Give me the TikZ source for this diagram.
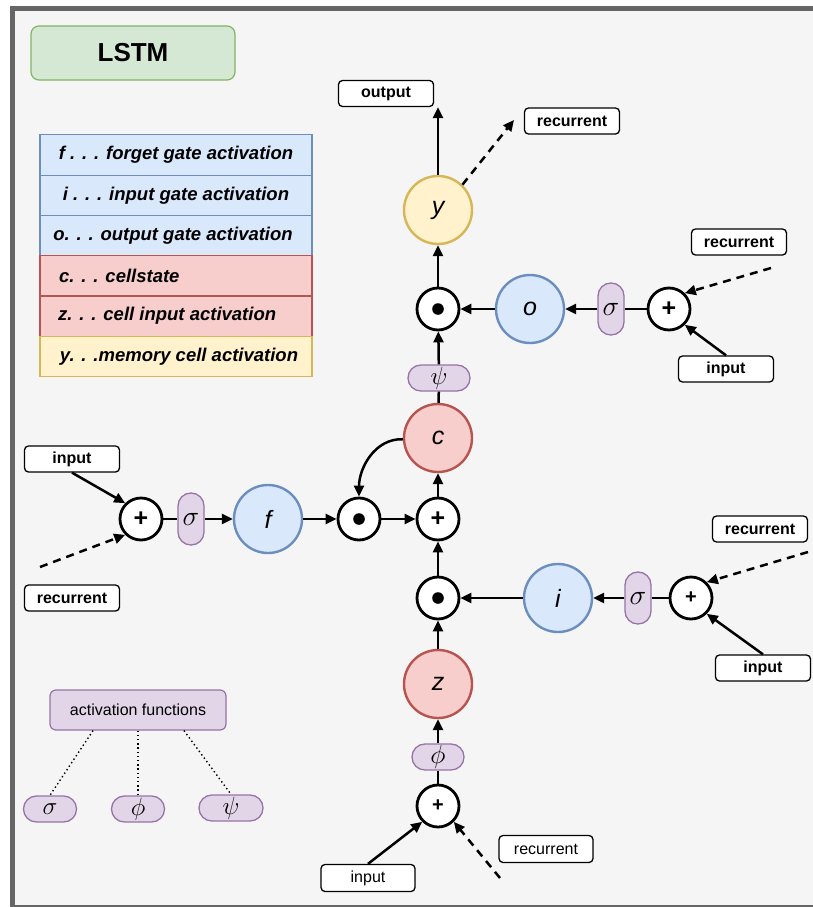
\RequirePackage{fix-cm}
\documentclass[tikz,border=0pt]{standalone}
\usepackage{fontspec}
\setmainfont{Liberation Sans}
\usetikzlibrary{arrows.meta,calc}

\definecolor{framegray}{HTML}{666666}
\definecolor{canvas}{HTML}{F5F5F5}
\definecolor{greenfill}{HTML}{D5E8D4}
\definecolor{greenline}{HTML}{82B366}
\definecolor{bluefill}{HTML}{DAE8FC}
\definecolor{blueline}{HTML}{6C8EBF}
\definecolor{redfill}{HTML}{F8CECC}
\definecolor{redline}{HTML}{B85450}
\definecolor{yellowfill}{HTML}{FFF2CC}
\definecolor{yellowline}{HTML}{D6B656}
\definecolor{purplefill}{HTML}{E1D5E7}
\definecolor{purpleline}{HTML}{9673A6}

\tikzset{
  gate/.style={circle, minimum size=68pt, inner sep=0pt, line width=2.4pt,
    font=\fontsize{25}{25}\selectfont\itshape},
  bluegate/.style={gate, fill=bluefill, draw=blueline},
  redgate/.style={gate, fill=redfill, draw=redline},
  yellowgate/.style={gate, fill=yellowfill, draw=yellowline},
  op/.style={circle, draw=black, fill=white, minimum size=42pt, inner sep=0pt, line width=2.8pt},
  plusop/.style={op, font=\fontsize{25}{25}\selectfont\bfseries},
  smallplus/.style={op, font=\fontsize{20}{20}\selectfont\bfseries},
  dotop/.style={op, path picture={\fill[black] (path picture bounding box.center) circle (5.8pt);}},
  pill/.style={draw=purpleline, fill=purplefill, line width=1.3pt, rounded corners=12.9pt,
    inner sep=0pt, font=\fontsize{28}{28}\selectfont},
  vpill/.style={pill, minimum width=26pt, minimum height=52pt},
  hpill/.style={pill, minimum width=#1, minimum height=26pt},
  tag/.style={draw=black, fill=white, rounded corners=4pt, minimum width=95pt, minimum height=26pt,
    line width=1.3pt, inner sep=0pt, font=\fontsize{16}{16}\selectfont\bfseries},
  plaintag/.style={tag, font=\fontsize{16}{16}\selectfont},
  legrow/.style 2 args={draw=#2, fill=#1, minimum width=272pt, minimum height=40.3pt,
    line width=1.2pt, inner sep=0pt},
  legtext/.style={inner sep=0pt, font=\fontsize{18.5}{18.5}\selectfont\bfseries\itshape},
  wire/.style={line width=2.5pt},
  arr/.style={wire, -{Triangle[length=11pt,width=10pt]}},
  dasharr/.style={arr, dash pattern=on 8pt off 6pt},
  dots/.style={line width=1.4pt, dash pattern=on 1.4pt off 2.8pt},
}

\begin{document}
\begin{tikzpicture}[x=1pt,y=-1pt]
  \useasboundingbox (0,0) rectangle (813,907);

  % page and frame
  \fill[white] (0,0) rectangle (813,907);
  \fill[canvas] (12.5,8.5) rectangle (813,907);
  \draw[framegray, line width=5pt] (12.5,907) -- (12.5,8.5) -- (813,8.5);
  \draw[framegray, line width=2pt] (12.5,906) -- (813,906);

  % title
  \node[draw=greenline, fill=greenfill, rounded corners=8pt, minimum width=204pt,
        minimum height=54pt, line width=1.2pt, font=\fontsize{26}{26}\selectfont\bfseries]
        (title) at (133,53) {LSTM};

  % legend
  \node[legrow={bluefill}{blueline}]     (lf) at (176,155.0) {};
  \node[legrow={bluefill}{blueline}]     (li) at (176,195.3) {};
  \node[legrow={bluefill}{blueline}]     (lo) at (176,235.6) {};
  \node[legrow={redfill}{redline}]       (lc) at (176,275.9) {};
  \node[legrow={redfill}{redline}]       (lz) at (176,316.2) {};
  \node[legrow={yellowfill}{yellowline}] (ly) at (176,356.5) {};
  \node[legtext] (tf) at (lf) {f . . . forget gate activation};
  \node[legtext] (ti) at (li) {i . . . input gate activation};
  \node[legtext] (to) at (173,235.6) {o. . . output gate activation};
  \node[legtext, anchor=west] (tc) at (59,275.9) {c. . . cellstate};
  \node[legtext, anchor=west] (tz) at (58,316.2) {z. . . cell input activation};
  \node[legtext] (ty) at (179,356.5) {y. . .memory cell activation};

  % output gate branch
  \node[yellowgate] (y) at (438,210) {y};
  \node[tag] (out) at (386,93.5) {output};
  \node[tag] (rtop) at (572,121) {recurrent};
  \node[dotop] (mo) at (438,309) {};
  \node[bluegate] (o) at (530,309) {o};
  \node[vpill] (so) at (611,309) {$\sigma$};
  \node[plusop] (ao) at (669,309) {+};
  \node[tag] (ro) at (739,242) {recurrent};
  \node[tag] (io) at (726,369) {input};

  % cell state
  \node[hpill=62pt, font=\fontsize{25}{25}\selectfont] (psi) at (439,378) {$\psi$};
  \node[redgate] (c) at (438,438) {c};
  \node[plusop] (ac) at (438,519) {+};

  % forget gate branch
  \node[dotop] (mf) at (359,519) {};
  \node[bluegate] (f) at (268,519) {f};
  \node[vpill] (sf) at (191,519) {$\sigma$};
  \node[plusop] (af) at (141,519) {+};
  \node[tag] (il) at (72,459) {input};
  \node[tag] (rl) at (72,598) {recurrent};

  % input gate branch
  \node[dotop] (mi) at (438,598) {};
  \node[bluegate] (i) at (558,598) {i};
  \node[vpill] (si) at (638,598) {$\sigma$};
  \node[smallplus] (ai) at (691,598) {+};
  \node[tag] (ri) at (760,529) {recurrent};
  \node[tag] (ii) at (763,668) {input};

  % cell input
  \node[redgate] (z) at (438,684) {z};
  \node[hpill=52pt, font=\fontsize{26}{26}\selectfont] (phi) at (438,757) {$\phi$};
  \node[smallplus] (az) at (438,806) {+};
  \node[plaintag, minimum width=94pt, minimum height=27pt] (iz) at (368,878) {input};
  \node[plaintag, minimum width=94pt, minimum height=27pt] (rz) at (546,849) {recurrent};

  % activation function key
  \node[draw=purpleline, fill=purplefill, rounded corners=6pt, minimum width=176pt,
        minimum height=40pt, line width=1.2pt, font=\fontsize{16}{16}\selectfont]
        (act) at (138,710) {activation functions};
  \node[hpill=53pt, font=\fontsize{25}{25}\selectfont] (sa) at (50,809) {$\sigma$};
  \node[hpill=53pt, font=\fontsize{25}{25}\selectfont] (pa) at (138,809) {$\phi$};
  \node[hpill=64pt, font=\fontsize{25}{25}\selectfont] (qa) at (231,808) {$\psi$};
  \draw[dots] ($(act.south)+(-45,0)$) -- (sa.north);
  \draw[dots] (act.south) -- (pa.north);
  \draw[dots] ($(act.south)+(46,0)$) -- (qa.north);

  % free ends of the recurrent connections
  \coordinate (ytip) at (514,120);
  \coordinate (roTail) at (771,268);
  \coordinate (rlTail) at (40,567);
  \coordinate (riTail) at (808,552);
  \coordinate (rzTail) at (500,878);

  % connectors: output gate
  \draw[arr] (y.north) -- (y.north |- out.south);
  \draw[dasharr] (y.46) -- (ytip);
  \draw[arr] (mo) -- (y);
  \draw[arr] (o) -- (mo);
  \draw[arr] (so) -- (o);
  \draw[wire] (ao) -- (so);
  \draw[dasharr] (roTail) -- (ao.45);
  \draw[arr] (io.north) -- (ao.-45);

  % connectors: cell state
  \draw[arr] (psi) -- (mo);
  \draw[wire] (c) -- (psi);
  \draw[arr] (ac) -- (c);
  \draw[arr] (c.182) to[out=178,in=90] (mf.north);

  % connectors: forget gate
  \draw[arr] (mf) -- (ac);
  \draw[arr] (f) -- (mf);
  \draw[arr] (sf) -- (f);
  \draw[wire] (af) -- (sf);
  \draw[arr] (il.south) -- (af.135);
  \draw[dasharr] (rlTail) -- (af.225);

  % connectors: input gate
  \draw[arr] (mi) -- (ac);
  \draw[arr] (i) -- (mi);
  \draw[arr] (si) -- (i);
  \draw[wire] (ai) -- (si);
  \draw[dasharr] (riTail) -- (ai.45);
  \draw[arr] (ii.north) -- (ai.-45);

  % connectors: cell input
  \draw[arr] (z) -- (mi);
  \draw[arr] (phi) -- (z);
  \draw[wire] (az) -- (phi);
  \draw[arr] (iz.north) -- (az.225);
  \draw[dasharr] (rzTail) -- (az.-45);
\end{tikzpicture}
\end{document}
